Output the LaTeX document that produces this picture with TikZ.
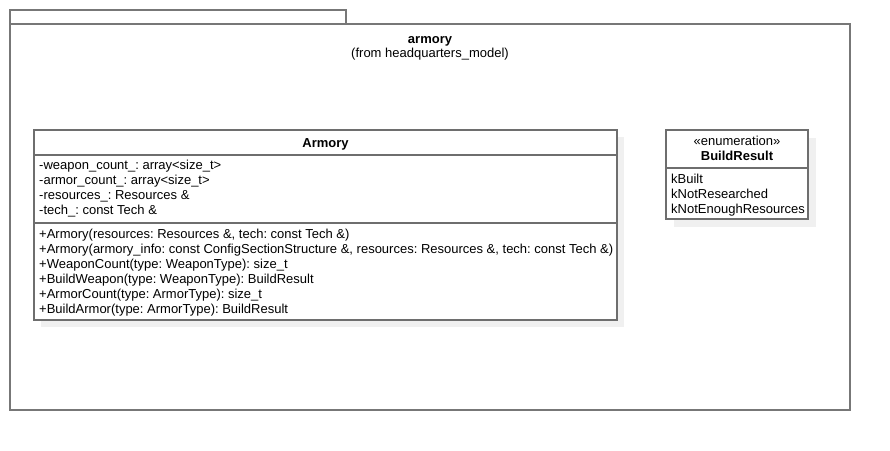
\documentclass[tikz,border=0pt]{standalone}
\usepackage{fontspec}
\setmainfont{Liberation Sans}
\frenchspacing
\definecolor{frameline}{HTML}{777777}
\definecolor{boxline}{HTML}{6E6E6E}
\definecolor{shadowfill}{HTML}{F0F0F0}
\tikzset{
  txt/.style={inner sep=0pt, anchor=base west, font=\fontsize{13}{15}\selectfont},
  ctxt/.style={inner sep=0pt, anchor=base, font=\fontsize{13}{15}\selectfont},
  btxt/.style={inner sep=0pt, anchor=base, font=\fontsize{13}{15}\selectfont\bfseries},
  pkgline/.style={draw=frameline, line width=1.4pt},
  clsline/.style={draw=boxline, line width=1.4pt},
  shadowbox/.style={fill=shadowfill, draw=none},
}
\begin{document}
\begin{tikzpicture}[x=1pt,y=-1pt]
\useasboundingbox[fill=white] (0,0) rectangle (890,450);
% package
\draw[pkgline] (10,24) rectangle (346,10);
\draw[pkgline, fill=white] (10,24) rectangle (850,410);
\node[btxt] (pkgname) at (430,43) {armory};
\node[ctxt] (pkgfrom) at (430,57) {(from headquarters\_model)};
% class Armory
\fill[shadowbox] (41,137) rectangle (624,327);
\draw[clsline, fill=white] (34,130) rectangle (617,320);
\draw[clsline] (34,155) -- (617,155);
\draw[clsline] (34,223) -- (617,223);
\node[btxt] (clsname) at (325.5,147) {Armory};
\node[txt] (a1) at (39,169.5) {-weapon\_count\_: array<size\_t>};
\node[txt] (a2) at (39,184.5) {-armor\_count\_: array<size\_t>};
\node[txt] (a3) at (39,199.5) {-resources\_: Resources \&};
\node[txt] (a4) at (39,214.5) {-tech\_: const Tech \&};
\node[txt] (o1) at (39,238) {+Armory(resources: Resources \&, tech: const Tech \&)};
\node[txt] (o2) at (39,253) {+Armory(armory\_info: const ConfigSectionStructure \&, resources: Resources \&, tech: const Tech \&)};
\node[txt] (o3) at (39,268) {+WeaponCount(type: WeaponType): size\_t};
\node[txt] (o4) at (39,283) {+BuildWeapon(type: WeaponType): BuildResult};
\node[txt] (o5) at (39,298) {+ArmorCount(type: ArmorType): size\_t};
\node[txt] (o6) at (39,313) {+BuildArmor(type: ArmorType): BuildResult};
% enumeration BuildResult
\fill[shadowbox] (674,138) rectangle (816,227);
\draw[clsline, fill=white] (666,130) rectangle (808,219);
\draw[clsline] (666,168) -- (808,168);
\node[ctxt] (stereo) at (737,145) {«enumeration»};
\node[btxt] (enumname) at (737,160) {BuildResult};
\node[txt] (e1) at (671,183) {kBuilt};
\node[txt] (e2) at (671,198) {kNotResearched};
\node[txt] (e3) at (671,213) {kNotEnoughResources};
\end{tikzpicture}
\end{document}
